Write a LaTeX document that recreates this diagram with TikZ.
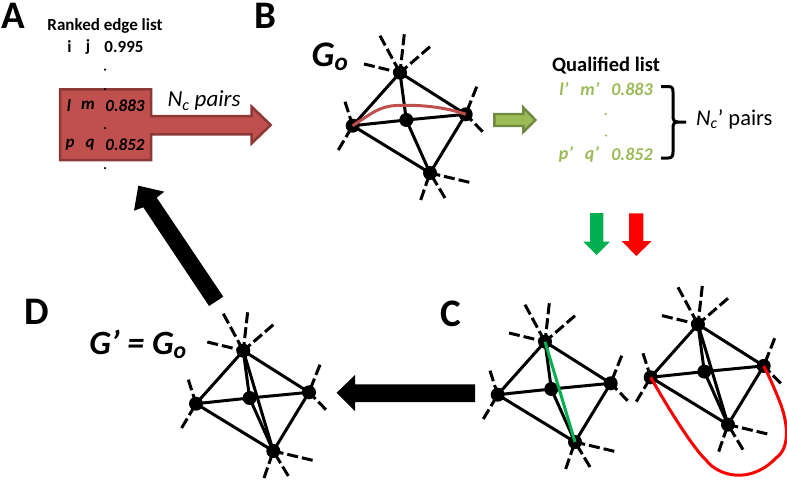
\documentclass[tikz,border=0pt]{standalone}
\usepackage{fontspec}
\setmainfont{Carlito}
\begin{document}
\begin{tikzpicture}[x=1pt,y=-1pt,
  edge/.style={line width=3pt,black},
  dashe/.style={line width=3pt,black,dash pattern=on 11pt off 4pt},
  vtx/.style={circle,fill=black,inner sep=0pt,minimum size=14pt},
  lab/.style={inner sep=0pt,font=\bfseries\fontsize{39}{39}\selectfont},
  lst/.style={inner sep=0pt,font=\bfseries\fontsize{17}{17}\selectfont},
  dotn/.style={circle,fill=black,inner sep=0pt,minimum size=2.5pt},
  gdot/.style={circle,fill=qgreen,inner sep=0pt,minimum size=2.5pt},
  qlst/.style={inner sep=0pt,text=qgreen,font=\bfseries\itshape\fontsize{18}{18}\selectfont},
  gr/.pic={
    \node[vtx] (-t) at (0,0) {};
    \node[vtx] (-l) at (-47.3,53) {};
    \node[vtx] (-c) at (6.3,47.3) {};
    \node[vtx] (-r) at (65.7,41.6) {};
    \node[vtx] (-b) at (30,100.3) {};
    \coordinate (-d1) at (-20,-37); \coordinate (-d2) at (4.3,-38.4);
    \coordinate (-d3) at (30,-26);  \coordinate (-d4) at (-36,-8.7);
    \coordinate (-d5) at (-55,29);  \coordinate (-d6) at (-61.7,77.3);
    \coordinate (-d7) at (76.7,14); \coordinate (-d8) at (82.7,59);
    \coordinate (-d9) at (69.3,109.6); \coordinate (-d10) at (20.7,127.3);
    \coordinate (-d11) at (45,125.3);
    \draw[edge] (-t.center)--(-l.center) (-t.center)--(-c.center) (-t.center)--(-r.center)
      (-l.center)--(-c.center)--(-r.center) (-l.center)--(-b.center) (-c.center)--(-b.center) (-r.center)--(-b.center);
    \foreach \d in {d1,d2,d3,d4}{\draw[dashe] (-\d) -- (-t.center);}
    \foreach \d in {d5,d6}{\draw[dashe] (-\d) -- (-l.center);}
    \foreach \d in {d7,d8}{\draw[dashe] (-\d) -- (-r.center);}
    \foreach \d in {d9,d10,d11}{\draw[dashe] (-\d) -- (-b.center);}
  }]
\definecolor{aredf}{HTML}{C0504D}
\definecolor{aredd}{HTML}{8C3836}
\definecolor{qgreen}{HTML}{9BBB59}
\definecolor{qgreend}{HTML}{71893F}
\definecolor{dgreen}{HTML}{00B050}
\path[use as bounding box] (0,0) rectangle (787,482);
% panel labels
\node[lab] (la) at (13,15.5) {A};
\node[lab] (lb) at (265,15.5) {B};
\node[lab] (lc) at (451,314) {C};
\node[lab] (ld) at (37,312) {D};
% A arrow
\draw[fill=aredf,draw=aredd,line width=2.5pt,line join=miter]
  (60,89.3)--(151,89.3)--(151,116)--(251.7,116)--(251.7,106.7)--(270.7,125)--(251.7,143.3)--(251.7,134.3)--(151,134.3)--(151,160)--(60,160)--cycle;
\node[lst] (ttl) at (105,26) {Ranked edge list};
\node[lst] (i) at (69.5,46.5) {i};
\node[lst] (j) at (88,46.5) {j};
\node[lst] (v1) at (124,46.5) {0.995};
\node[dotn] (da) at (105,69.5) {};
\node[dotn] (db) at (105,89) {};
\node[dotn] (dc) at (105,128) {};
\node[dotn] (dd) at (105,168) {};
\begin{scope}[every node/.append style={lst,font=\bfseries\itshape\fontsize{17}{17}\selectfont}]
\node (l) at (69,105.5) {l};
\node (m) at (88,105.5) {m};
\node (v2) at (125,105.5) {0.883};
\node (p) at (70,145) {p};
\node (q) at (90,145) {q};
\node (v3) at (125,145) {0.852};
\end{scope}
\node[inner sep=0pt,font=\itshape\fontsize{23}{23}\selectfont] (nc) at (204,100.5) {N\textsubscript{c} pairs};
% graph B
\pic (gb) at (400,72.7) {gr};
\draw[aredf,line width=3pt] (gb-l.center) .. controls (372,113) and (380,106) .. (397,105.5) .. controls (420,104.5) and (445,107) .. (gb-r.center);
\node[inner sep=0pt,font=\bfseries\itshape\fontsize{36}{36}\selectfont] (go) at (330,57) {G\textsubscript{o}};
% green arrow
\draw[fill=qgreen,draw=qgreend,line width=2.4pt]
  (494.3,114)--(523.3,114)--(523.3,107.5)--(535.5,120)--(523.3,132)--(523.3,126)--(494.3,126)--cycle;
% qualified list
\node[inner sep=0pt,font=\bfseries\fontsize{20.5}{20.5}\selectfont] (ql) at (606,65.5) {Qualified list};
\node[qlst] (q1) at (564,89) {l’};
\node[qlst] (q2) at (590,89) {m’};
\node[qlst] (q3) at (632,89) {0.883};
\node[qlst] (q4) at (566,154) {p’};
\node[qlst] (q5) at (592,154) {q’};
\node[qlst] (q6) at (632,154) {0.852};
\node[gdot] (g1) at (605.5,114) {};
\node[gdot] (g2) at (606,135.5) {};
\coordinate (b1) at (661,86.5);
\coordinate (b2) at (686,122);
\coordinate (b3) at (661,158);
\draw[line width=3pt] (b1) -- (668,86.5) .. controls (672,86.5) and (673,88) .. (673,92) -- (673,116) .. controls (673,120) and (674,122) .. (678,122) -- (b2);
\draw[line width=3pt] (b3) -- (668,158) .. controls (672,158) and (673,156) .. (673,152) -- (673,128) .. controls (673,124) and (674,122) .. (678,122);
\node[inner sep=0pt,anchor=west,font=\fontsize{22.5}{22.5}\selectfont] (ncp) at (696,119.5) {\textit{N\textsubscript{c}}’ pairs};
% down arrows
\fill[dgreen] (590,213)--(603.3,213)--(603.3,241.7)--(610,241.7)--(596.7,255)--(583.3,241.7)--(590,241.7)--cycle;
\fill[red] (629,213.3)--(643.3,213.3)--(643.3,241)--(651.7,241)--(636.3,256)--(621.7,241)--(629,241)--cycle;
% graphs C
\pic (gc) at (545,341.7) {gr};
\draw[dgreen,line width=3pt] (gc-t.center) -- (gc-b.center);
\pic (ge) at (698,324.3) {gr};
\draw[edge] (ge-t.center) -- (ge-b.center);
\draw[red,line width=3pt] (ge-l.center) .. controls (672,415) and (695,450) .. (706,460) .. controls (718,476) and (750,485) .. (776,458) .. controls (790,448) and (788,425) .. (781,405) .. controls (776,392) and (770,378) .. (ge-r.center);
% graph D
\pic (gd) at (243.3,350.7) {gr};
\draw[edge] (gd-t.center) -- (gd-b.center);
\node[inner sep=0pt,font=\bfseries\itshape\fontsize{34}{34}\selectfont] (gp) at (138,344) {G’ = G\textsubscript{o}};
% black arrows
\fill[black] (475,384.3)--(355,384.3)--(355,375)--(336.7,392.7)--(355,411)--(355,402)--(475,402)--cycle;
\fill[black] (209,306)--(223.3,296.7)--(156.7,197.7)--(164.3,191.7)--(138.3,185.7)--(134,210.7)--(143.3,207.3)--cycle;
\end{tikzpicture}
\end{document}
